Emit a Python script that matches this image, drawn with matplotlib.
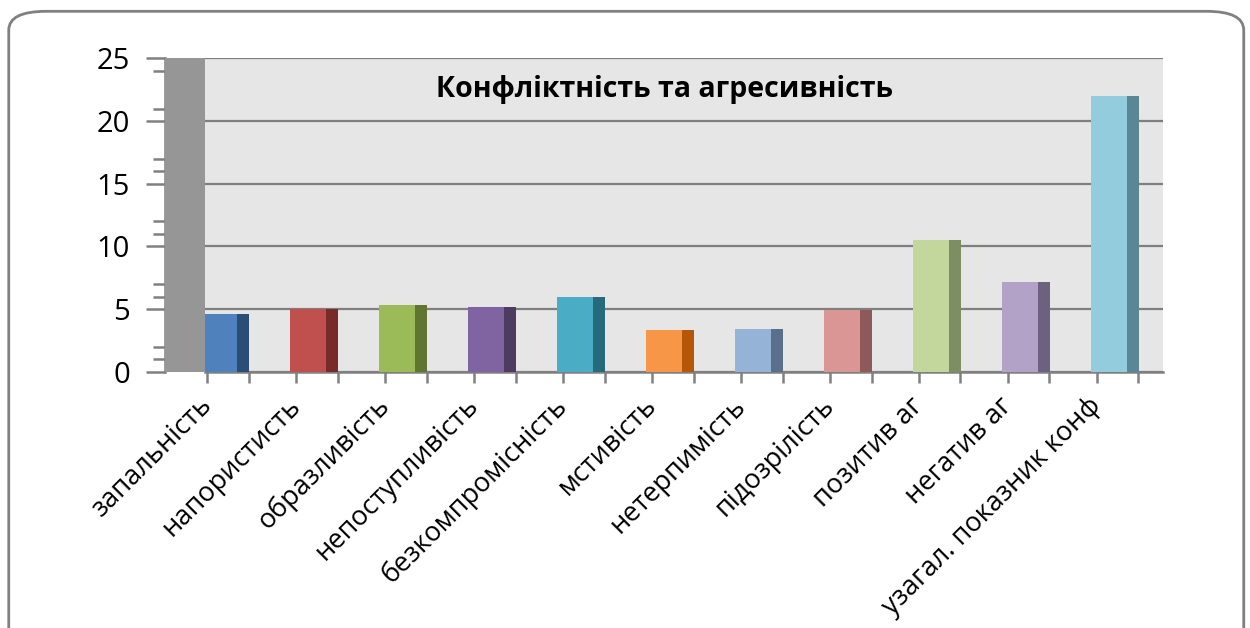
import matplotlib
matplotlib.use("Agg")
from matplotlib import pyplot as plt
from matplotlib.patches import FancyBboxPatch, Rectangle
from matplotlib.transforms import ScaledTranslation
import numpy as np

plt.rcParams['font.family'] = ['Open Sans', 'DejaVu Sans']

categories = ['запальність', 'напористисть', 'образливість', 'непоступливість',
              'безкомпромісність', 'мстивість', 'нетерпимість', 'підозрілість',
              'позитив аг', 'негатив аг', 'узагал. показник конф']
values = [4.6, 5.0, 5.3, 5.2, 6.0, 3.3, 3.4, 4.9, 10.5, 7.2, 22.0]
front = ['#4F81BD', '#C0504D', '#9BBB59', '#8064A2', '#4BACC6', '#F79646',
         '#95B3D7', '#D99694', '#C3D69B', '#B3A2C7', '#93CDDD']
side = ['#2C4D75', '#772C2A', '#5F7530', '#4D3B62', '#276A7C', '#B65708',
        '#5A6F8C', '#8E5A59', '#7E8E63', '#6C6280', '#5A8795']
title = 'Конфліктність та агресивність'
yticks = [0, 5, 10, 15, 20, 25]

fig = plt.figure(figsize=(12.5, 6.28), dpi=100)

# outer rounded frame
frame = FancyBboxPatch((0.007, -0.05), 0.988, 1.032, boxstyle='round,pad=0,rounding_size=0.03',
                       transform=fig.transFigure, fill=False, edgecolor='#808080', lw=2)
fig.patches.append(frame)

ax = fig.add_axes([0.164, 0.408, 0.766, 0.499])
ax.set_facecolor('#E6E6E6')

x = np.arange(len(categories))
w = 0.40
d = 0.14
ax.bar(x + 0.02, values, width=w, color=front, zorder=3)
ax.bar(x + 0.02 + w / 2 + d / 2, values, width=d, color=side, zorder=3)

ax.set_yticks(yticks)
ax.set_yticks([1, 2, 6, 7, 11, 12, 16, 17, 21, 24], minor=True)
ax.grid(axis='y', which='major', color='#7F7F7F', lw=1.6, zorder=1)

ax.set_xticks([])
ax.set_xticks(np.concatenate([x - 0.12, x + 0.35]), minor=True)
ax.set_xlim(-0.14, 10.62)
ax.set_ylim(0, 25)

# category labels, rotated, ending a bit left of each bar centre
lab_tr = ax.get_xaxis_transform() + ScaledTranslation(-0.2, -0.2, fig.dpi_scale_trans)
for xi, cat in zip(x, categories):
    ax.text(xi, 0, cat, transform=lab_tr, rotation=45, ha='right', va='top',
            rotation_mode='anchor', fontsize=19.5)

ax.tick_params(axis='x', which='minor', length=8, color='#808080', width=1.8)
ax.tick_params(axis='y', which='major', length=14, color='#808080', width=1.8,
               labelsize=21, pad=11)
ax.tick_params(axis='y', which='minor', length=9, color='#808080', width=1.8)

for s in ['top', 'right']:
    ax.spines[s].set_visible(False)
ax.spines['bottom'].set_color('#808080')
ax.spines['bottom'].set_linewidth(1.8)
ax.spines['left'].set_position(('outward', 29))
ax.spines['left'].set_color('#808080')
ax.spines['left'].set_linewidth(1.8)

# dark side wall between outward spine and back wall
wall = Rectangle((0.132, 0.408), 0.032, 0.499, transform=fig.transFigure,
                 facecolor='#969696', edgecolor='none', zorder=0)
fig.patches.append(wall)

ax.text(0.48, 0.9, title, transform=ax.transAxes, ha='center', va='center',
        fontsize=20.5, fontweight='bold', zorder=4)

fig.savefig('out.png', dpi=100)
